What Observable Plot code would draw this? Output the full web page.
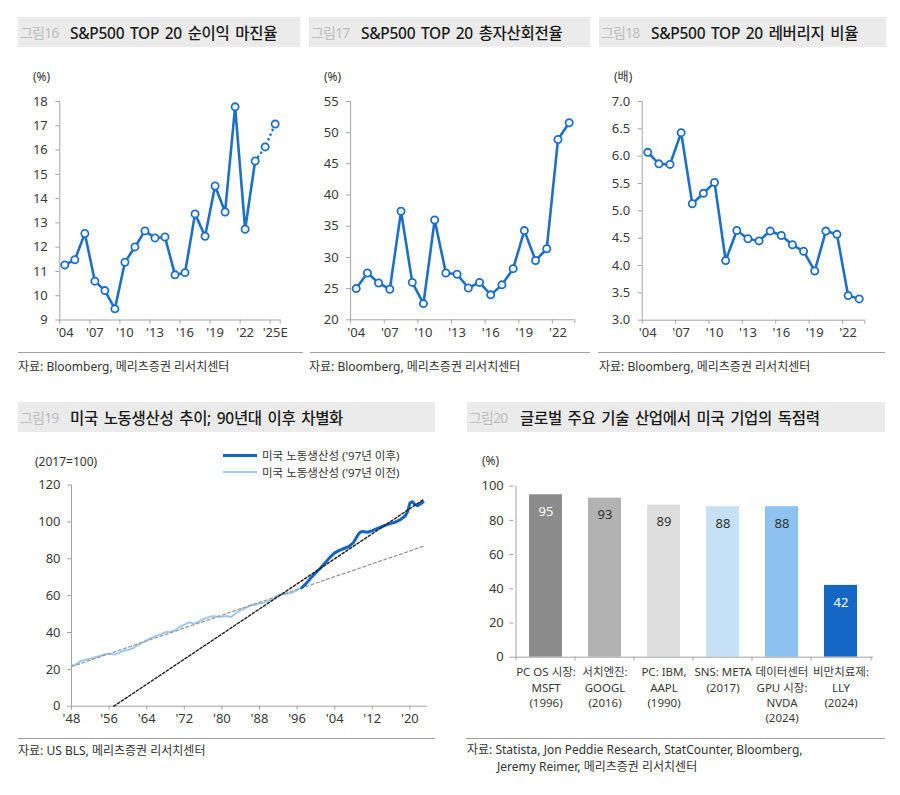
<!DOCTYPE html>
<html><head><meta charset="utf-8">
<script src="https://cdn.jsdelivr.net/npm/d3@7"></script>
<script src="https://cdn.jsdelivr.net/npm/@observablehq/plot@0.6"></script>
<style>
body{margin:0;width:900px;height:795px;background:#fff;position:relative;font-family:"Noto Sans","Noto Sans CJK KR",sans-serif;color:#333;overflow:hidden}
.tbar{position:absolute;height:30px;background:#ebebeb;display:flex;align-items:center;white-space:nowrap}
.tnum{color:#bdbdbd;font-size:14px;padding-left:2px;letter-spacing:-0.8px;flex:none}
.ttl{color:#1a1a1a;font-size:15.5px;font-weight:500;letter-spacing:-0.3px;word-spacing:2px}
.src{position:absolute;font-size:12px;color:#333;white-space:nowrap;line-height:17px}
.hr{position:absolute;height:1px;background:#a0a0a0}
.unit{position:absolute;font-size:12px;color:#333;line-height:16px;white-space:nowrap}
.legt{position:absolute;font-size:11.5px;color:#333;line-height:14px;white-space:nowrap}
.plot{position:absolute}
.leg{position:absolute}
</style></head>
<body>
<div class="tbar" style="left:18px;top:17px;width:282px"><span class="tnum" style="width:50px">그림16</span><span class="ttl">S&amp;P500 TOP 20 순이익 마진율</span></div>
<div class="tbar" style="left:309px;top:17px;width:281px"><span class="tnum" style="width:50px">그림17</span><span class="ttl">S&amp;P500 TOP 20 총자산회전율</span></div>
<div class="tbar" style="left:599px;top:17px;width:287px"><span class="tnum" style="width:50px">그림18</span><span class="ttl">S&amp;P500 TOP 20 레버리지 비율</span></div>
<div class="tbar" style="left:18px;top:402px;width:417px"><span class="tnum" style="width:50px">그림19</span><span class="ttl">미국 노동생산성 추이; 90년대 이후 차별화</span></div>
<div class="tbar" style="left:467px;top:402px;width:418px"><span class="tnum" style="width:51px">그림20</span><span class="ttl">글로벌 주요 기술 산업에서 미국 기업의 독점력</span></div>

<div class="unit" style="left:33px;top:69px">(%)</div>
<div class="unit" style="left:324px;top:69px">(%)</div>
<div class="unit" style="left:614px;top:69px">(배)</div>
<div class="unit" style="left:35px;top:454px">(2017=100)</div>
<div class="unit" style="left:482px;top:453px">(%)</div>

<div class="leg" style="left:223px;top:454px;width:34px;height:3px;background:#1565c0"></div>
<div class="legt" style="left:262px;top:448.5px">미국 노동생산성 ('97년 이후)</div>
<div class="leg" style="left:223px;top:471px;width:34px;height:1.6px;background:#9ec8f0"></div>
<div class="legt" style="left:262px;top:465.5px">미국 노동생산성 ('97년 이전)</div>

<div class="plot" id="p16" style="left:0px;top:85px;width:300px"></div>
<div class="plot" id="p17" style="left:300px;top:85px;width:300px"></div>
<div class="plot" id="p18" style="left:590px;top:85px;width:310px"></div>
<div class="plot" id="p19" style="left:0px;top:480px;width:450px"></div>
<div class="plot" id="p20" style="left:460px;top:475px;width:440px"></div>

<div class="hr" style="left:18px;top:352px;width:285px"></div>
<div class="hr" style="left:310px;top:352px;width:280px"></div>
<div class="hr" style="left:598px;top:352px;width:287px"></div>
<div class="hr" style="left:18px;top:738px;width:417px"></div>
<div class="hr" style="left:466px;top:738px;width:419px"></div>

<div class="src" style="left:18px;top:358px">자료: Bloomberg, 메리츠증권 리서치센터</div>
<div class="src" style="left:309px;top:358px">자료: Bloomberg, 메리츠증권 리서치센터</div>
<div class="src" style="left:599px;top:358px">자료: Bloomberg, 메리츠증권 리서치센터</div>
<div class="src" style="left:18px;top:742px">자료: US BLS, 메리츠증권 리서치센터</div>
<div class="src" style="left:467px;top:741px">자료: Statista, Jon Peddie Research, StatCounter, Bloomberg,</div>
<div class="src" style="left:497px;top:758px">Jeremy Reimer, 메리츠증권 리서치센터</div>

<script>
// ---------- DATA ----------
// 그림16: 순이익 마진율 (%), 2024-2025 are estimates
const marginYears = [2004,2005,2006,2007,2008,2009,2010,2011,2012,2013,2014,2015,2016,2017,2018,2019,2020,2021,2022,2023,2024,2025];
const marginValues = [11.27,11.48,12.56,10.60,10.21,9.46,11.38,12.01,12.67,12.38,12.42,10.86,10.95,13.37,12.45,14.52,13.45,17.78,12.74,15.55,16.13,17.07];
const marginLastActual = 2023;
const marginYTicks = [9,10,11,12,13,14,15,16,17,18];
const marginXTicks = [2004,2007,2010,2013,2016,2019,2022,2025];
const marginXLabels = ["'04","'07","'10","'13","'16","'19","'22","'25E"];

// 그림17: 총자산회전율 (%)
const turnoverYears = [2004,2005,2006,2007,2008,2009,2010,2011,2012,2013,2014,2015,2016,2017,2018,2019,2020,2021,2022,2023];
const turnoverValues = [25.0,27.5,25.9,24.9,37.4,26.0,22.6,36.0,27.5,27.3,25.1,26.0,24.0,25.6,28.2,34.3,29.5,31.4,48.9,51.6];
const turnoverYTicks = [20,25,30,35,40,45,50,55];
const turnoverXTicks = [2004,2007,2010,2013,2016,2019,2022];
const turnoverXLabels = ["'04","'07","'10","'13","'16","'19","'22"];

// 그림18: 레버리지 비율 (배)
const leverageYears = [2004,2005,2006,2007,2008,2009,2010,2011,2012,2013,2014,2015,2016,2017,2018,2019,2020,2021,2022,2023];
const leverageValues = [6.07,5.86,5.85,6.43,5.13,5.32,5.52,4.09,4.64,4.49,4.45,4.63,4.55,4.38,4.26,3.90,4.63,4.57,3.45,3.39];
const leverageYTicks = [3.0,3.5,4.0,4.5,5.0,5.5,6.0,6.5,7.0];
const leverageXTicks = [2004,2007,2010,2013,2016,2019,2022];
const leverageXLabels = ["'04","'07","'10","'13","'16","'19","'22"];

// 그림19: 미국 노동생산성 (2017=100)
const prodPreYears = [1948,1949,1950,1951,1952,1953,1954,1955,1956,1957,1958,1959,1960,1961,1962,1963,1964,1965,1966,1967,1968,1969,1970,1971,1972,1973,1974,1975,1976,1977,1978,1979,1980,1981,1982,1983,1984,1985,1986,1987,1988,1989,1990,1991,1992,1993,1994,1995,1996,1997];
const prodPreValues = [22.0,22.8,24.6,25.2,25.8,26.6,27.2,28.2,28.4,28.0,28.8,30.0,30.5,31.4,33.0,34.4,35.8,37.0,38.3,39.0,40.2,40.4,41.2,43.0,44.2,45.6,44.8,45.8,47.2,48.2,48.8,48.7,48.5,48.9,48.4,50.6,52.0,53.2,54.6,55.0,55.8,56.2,57.2,58.2,60.6,60.8,61.2,61.6,63.0,64.3];
const prodPostYears = [1997,1998,1999,2000,2001,2002,2003,2004,2005,2006,2007,2008,2009,2009.5,2010,2011,2012,2013,2014,2015,2016,2017,2018,2019,2019.5,2020,2020.6,2021,2021.6,2022.2,2022.8];
const prodPostValues = [64.3,66.8,69.8,72.5,75.0,77.8,80.8,83.2,84.6,85.6,86.6,88.8,93.2,94.6,94.8,94.4,95.3,96.4,97.4,98.4,99.2,100.0,101.3,103.2,105.5,110.2,111.0,109.6,108.8,109.8,110.8];
const trendPreYears = [1948, 2022.8];
const trendPreValues = [21.5, 86.7];
const trendPostYears = [1957, 2022.8];
const trendPostValues = [0, 112.0];
const prodYTicks = [0,20,40,60,80,100,120];
const prodXTicks = [1948,1956,1964,1972,1980,1988,1996,2004,2012,2020];
const prodXLabels = ["'48","'56","'64","'72","'80","'88","'96","'04","'12","'20"];

// 그림20: 미국 기업의 독점력 (%)
const techCategories = ["PC OS 시장:\nMSFT\n(1996)","서치엔진:\nGOOGL\n(2016)","PC: IBM,\nAAPL\n(1990)","SNS: META\n(2017)","데이터센터\nGPU 시장:\nNVDA\n(2024)","비만치료제:\nLLY\n(2024)"];
const techShares = [95,93,89,88,88,42];
const techYTicks = [0,20,40,60,80,100];

// ---------- STYLE ----------
const FONT = '"Noto Sans","Noto Sans CJK KR",sans-serif';
const BLUE = "#1f6fc6";
const AX = "#a3a3a3";
const INK = "#3a3a3a";
const barPalette = ["#8c8c8c","#b2b2b2","#dedede","#c6e0f7","#8ec2f1","#1467c4"];
const barLabelInk = ["#ffffff","#333333","#333333","#333333","#333333","#ffffff"];

function baseStyle(){ return {fontFamily: FONT, fontSize: "13px", color: INK, background: "transparent", overflow: "visible"}; }

function linePanel(o){
  const data = o.years.map((y,i)=>({year:y, v:o.values[i]}));
  const solid = o.solidUntil ? data.filter(d=>d.year<=o.solidUntil) : data;
  const dotted = o.solidUntil ? data.filter(d=>d.year>=o.solidUntil) : [];
  const lo = o.years[0]-0.5, hi = o.years[o.years.length-1]+0.5;
  const labelOf = new Map(o.xTicks.map((t,i)=>[t,o.xLabels[i]]));
  const bounds = o.xTicks.map(t=>t-0.5).concat([hi]);
  const marks = [
    Plot.ruleY([o.yDomain[0]], {stroke: AX}),
    Plot.ruleX([lo], {stroke: AX}),
    Plot.axisY({ticks: o.yTicks, tickFormat: o.yFmt, tickSize: 4, tickPadding: 8, stroke: AX, fill: INK}),
    Plot.axisX({ticks: o.xTicks, tickFormat: t=>labelOf.get(t), tickSize: 0, tickPadding: 8, fill: INK}),
    Plot.axisX({ticks: bounds, tickFormat: ()=>"", tickSize: 4, tickPadding: 0, stroke: AX}),
    Plot.line(solid, {x:"year", y:"v", stroke: BLUE, strokeWidth: 2.6, strokeLinejoin: "round"})
  ];
  if (dotted.length) marks.push(Plot.line(dotted, {x:"year", y:"v", stroke: BLUE, strokeWidth: 2.6, strokeDasharray: "0.1,5", strokeLinecap: "round"}));
  marks.push(Plot.dot(data, {x:"year", y:"v", r: 3.6, fill: "white", stroke: BLUE, strokeWidth: 1.8}));
  return Plot.plot({
    width: o.width, height: o.height,
    marginLeft: o.ml, marginRight: o.mr, marginTop: o.mt, marginBottom: o.mb,
    x: {domain: [lo, hi], label: null},
    y: {domain: o.yDomain, label: null},
    style: baseStyle(),
    marks
  });
}

document.getElementById("p16").append(linePanel({
  years: marginYears, values: marginValues, solidUntil: marginLastActual,
  yDomain: [9,18], yTicks: marginYTicks, yFmt: d=>String(d),
  xTicks: marginXTicks, xLabels: marginXLabels,
  width: 300, height: 265, ml: 59.3, mr: 20.3, mt: 16, mb: 30.5
}));
document.getElementById("p17").append(linePanel({
  years: turnoverYears, values: turnoverValues,
  yDomain: [20,55], yTicks: turnoverYTicks, yFmt: d=>String(d),
  xTicks: turnoverXTicks, xLabels: turnoverXLabels,
  width: 300, height: 265, ml: 50.1, mr: 25.7, mt: 16, mb: 30.7
}));
document.getElementById("p18").append(linePanel({
  years: leverageYears, values: leverageValues,
  yDomain: [3,7], yTicks: leverageYTicks, yFmt: d=>d.toFixed(1),
  xTicks: leverageXTicks, xLabels: leverageXLabels,
  width: 310, height: 265, ml: 51.7, mr: 35.7, mt: 16, mb: 30.3
}));

// 그림19
{
  const pre = prodPreYears.map((y,i)=>({year:y, v:prodPreValues[i]}));
  const post = prodPostYears.map((y,i)=>({year:y, v:prodPostValues[i]}));
  const tPre = trendPreYears.map((y,i)=>({year:y, v:trendPreValues[i]}));
  const tPost = trendPostYears.map((y,i)=>({year:y, v:trendPostValues[i]}));
  const labelOf = new Map(prodXTicks.map((t,i)=>[t,prodXLabels[i]]));
  document.getElementById("p19").append(Plot.plot({
    width: 450, height: 250, marginLeft: 71, marginRight: 23, marginTop: 4.6, marginBottom: 24.3,
    x: {domain: [1948, 2023.75], label: null},
    y: {domain: [0,120], label: null},
    style: baseStyle(),
    marks: [
      Plot.ruleY([0], {stroke: AX}),
      Plot.ruleX([1948], {stroke: AX}),
      Plot.axisY({ticks: prodYTicks, tickSize: 4, tickPadding: 7, stroke: AX, fill: INK}),
      Plot.axisX({ticks: prodXTicks, tickFormat: t=>labelOf.get(t), tickSize: 4, tickPadding: 4, stroke: AX, fill: INK}),
      Plot.line(pre, {x:"year", y:"v", stroke: "#9ec8f0", strokeWidth: 2}),
      Plot.line(tPre, {x:"year", y:"v", stroke: "#9a9a9a", strokeWidth: 1.3, strokeDasharray: "3,2.5"}),
      Plot.line(post, {x:"year", y:"v", stroke: "#1565c0", strokeWidth: 3, strokeLinejoin: "round"}),
      Plot.line(tPost, {x:"year", y:"v", stroke: "#1e1e1e", strokeWidth: 1.4, strokeDasharray: "2.5,2"})
    ]
  }));
}

// 그림20
{
  const W = 440, H = 260, ml = 53.3, mr = 27, mt = 10.7, mb = 78.3;
  const pi = 0.44, po = 0.22;
  const n = techCategories.length;
  const step = (W - ml - mr) / (n - pi + 2*po);
  const data = techCategories.map((c,i)=>({cat:c, v:techShares[i], color: barPalette[i], ink: barLabelInk[i]}));
  document.getElementById("p20").append(Plot.plot({
    width: W, height: H, marginLeft: ml, marginRight: mr, marginTop: mt, marginBottom: mb,
    x: {type: "band", domain: techCategories, paddingInner: pi, paddingOuter: po, label: null},
    y: {domain: [0,100], label: null},
    style: baseStyle(),
    marks: [
      Plot.barY(data, {x:"cat", y:"v", fill:"color"}),
      Plot.ruleY([0], {stroke: AX}),
      Plot.ruleX([techCategories[0]], {y1: 0, y2: 100, stroke: AX, dx: -step/2}),
      Plot.ruleX(techCategories, {y1: 0, y2: -2.3, stroke: AX, dx: -step/2}),
      Plot.ruleX([techCategories[n-1]], {y1: 0, y2: -2.3, stroke: AX, dx: step/2}),
      Plot.axisY({ticks: techYTicks, tickSize: 4, tickPadding: 6, stroke: AX, fill: INK}),
      Plot.axisX({tickSize: 0, tickPadding: 8.5, fill: INK, fontSize: 11.5, lineHeight: 1.32}),
      Plot.text(data, {x:"cat", y:"v", text: d=>String(d.v), dy: 17, fill: "ink", fontSize: 13})
    ]
  }));
}
</script>
</body></html>
